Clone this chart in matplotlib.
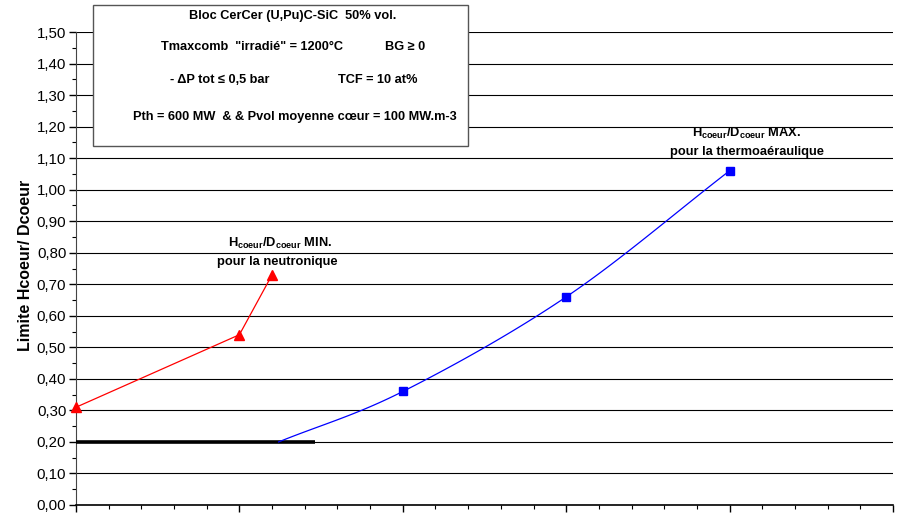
import numpy as np
import matplotlib
matplotlib.use("Agg")
import matplotlib.pyplot as plt
from matplotlib.ticker import MultipleLocator, NullFormatter

plt.rcParams['font.family'] = ['Liberation Sans', 'DejaVu Sans']
plt.rcParams['mathtext.fontset'] = 'custom'
plt.rcParams['mathtext.rm'] = 'Liberation Sans:bold'
plt.rcParams['mathtext.it'] = 'Liberation Sans:bold'
plt.rcParams['mathtext.bf'] = 'Liberation Sans:bold'

# data
x_min = [0.0, 1.0, 1.2]
y_min = [0.31, 0.54, 0.73]          # Hcoeur/Dcoeur MIN (neutronique)
x_max = [1.24, 2.0, 3.0, 4.0]
y_max = [0.20, 0.36, 0.66, 1.06]    # Hcoeur/Dcoeur MAX (thermoaéraulique)
x_lim = [0.0, 1.46]
y_lim = [0.20, 0.20]                # limite basse

y_ticks = np.round(np.arange(0, 1.51, 0.1), 2)
y_labels = [f"{v:.2f}".replace(".", ",") for v in y_ticks]


def smooth(xs, ys, n=30):
    # catmull-rom through the points, like excel's smoothed line
    p = np.column_stack([xs, ys])
    p = np.vstack([2 * p[0] - p[1], p, 2 * p[-1] - p[-2]])
    out = []
    for i in range(1, len(p) - 2):
        p0, p1, p2, p3 = p[i - 1], p[i], p[i + 1], p[i + 2]
        t = np.linspace(0, 1, n)[:, None]
        seg = 0.5 * ((2 * p1) + (-p0 + p2) * t + (2 * p0 - 5 * p1 + 4 * p2 - p3) * t ** 2
                     + (-p0 + 3 * p1 - 3 * p2 + p3) * t ** 3)
        out.append(seg)
    c = np.vstack(out)
    return c[:, 0], c[:, 1]


fig = plt.figure(figsize=(9.15, 5.13), dpi=100)
ax = fig.add_axes([76 / 915, 8 / 513, (893 - 76) / 915, (505 - 32) / 513])

ax.set_xlim(0, 5)
ax.set_ylim(0, 1.5)
ax.set_yticks(y_ticks)
ax.set_yticklabels(y_labels, fontsize=10.8)
ax.yaxis.set_minor_locator(MultipleLocator(0.05))
ax.xaxis.set_major_locator(MultipleLocator(1))
ax.xaxis.set_minor_locator(MultipleLocator(0.2))
ax.xaxis.set_major_formatter(NullFormatter())
ax.tick_params(axis='both', which='major', length=5, width=1, color='black')
ax.tick_params(axis='y', which='major', pad=2)
ax.tick_params(axis='both', which='minor', length=3, width=0.8, color='black')
ax.grid(axis='y', which='major', color='black', linewidth=0.8)
ax.set_axisbelow(True)
for s in ['top', 'right']:
    ax.spines[s].set_visible(False)
ax.spines['left'].set_color('#444444')
ax.spines['bottom'].set_color('black')
ax.spines['bottom'].set_linewidth(1.2)

ax.set_ylabel("Limite Hcoeur/ Dcoeur", fontsize=11.5, fontweight='bold')
ax.yaxis.set_label_coords((33 - 76) / 817, (505 - 265) / 473)

ax.plot(x_lim, y_lim, color='black', linewidth=2.6, solid_capstyle='butt', zorder=3)
ax.plot(x_min, y_min, color='red', linewidth=0.9, marker='^', markersize=7,
        clip_on=False, zorder=4)
sx, sy = smooth(x_max, y_max)
ax.plot(sx, sy, color='blue', linewidth=0.9, zorder=4)
ax.plot(x_max[1:], y_max[1:], linestyle='none', marker='s', markersize=6,
        color='blue', zorder=5)

# text box
fig.patches.append(plt.Rectangle((93 / 915, 1 - 146 / 513), (468 - 93) / 915, (146 - 5) / 513,
                                 transform=fig.transFigure, fill=True, facecolor='white',
                                 edgecolor='#555555', linewidth=1.0, zorder=10))
tk = dict(fontsize=9.2, fontweight='bold', ha='center', va='center', zorder=11)
fig.text(293 / 915, 1 - 16 / 513, "Bloc CerCer (U,Pu)C-SiC  50% vol.", **tk)
fig.text(252 / 915, 1 - 47 / 513, 'Tmaxcomb  "irradié" = 1200°C', **tk)
fig.text(405 / 915, 1 - 47 / 513, "BG ≥ 0", **tk)
fig.text(220 / 915, 1 - 80 / 513, "- ΔP tot ≤ 0,5 bar", **tk)
fig.text(378 / 915, 1 - 80 / 513, "TCF = 10 at%", **tk)
fig.text(295 / 915, 1 - 117 / 513, "Pth = 600 MW  & & Pvol moyenne cœur = 100 MW.m-3", **tk)

ak = dict(fontsize=9.3, fontweight='bold', ha='center', va='center')
fig.text(280 / 915, 1 - 243 / 513, r"$\mathrm{H_{coeur}/D_{coeur}}$ MIN.", **ak)
fig.text(277 / 915, 1 - 262 / 513, "pour la neutronique", **ak)
fig.text(747 / 915, 1 - 133 / 513, r"$\mathrm{H_{coeur}/D_{coeur}}$ MAX.", **ak)
fig.text(747 / 915, 1 - 152 / 513, "pour la thermoaéraulique", **ak)

fig.savefig("out.png", dpi=100)
